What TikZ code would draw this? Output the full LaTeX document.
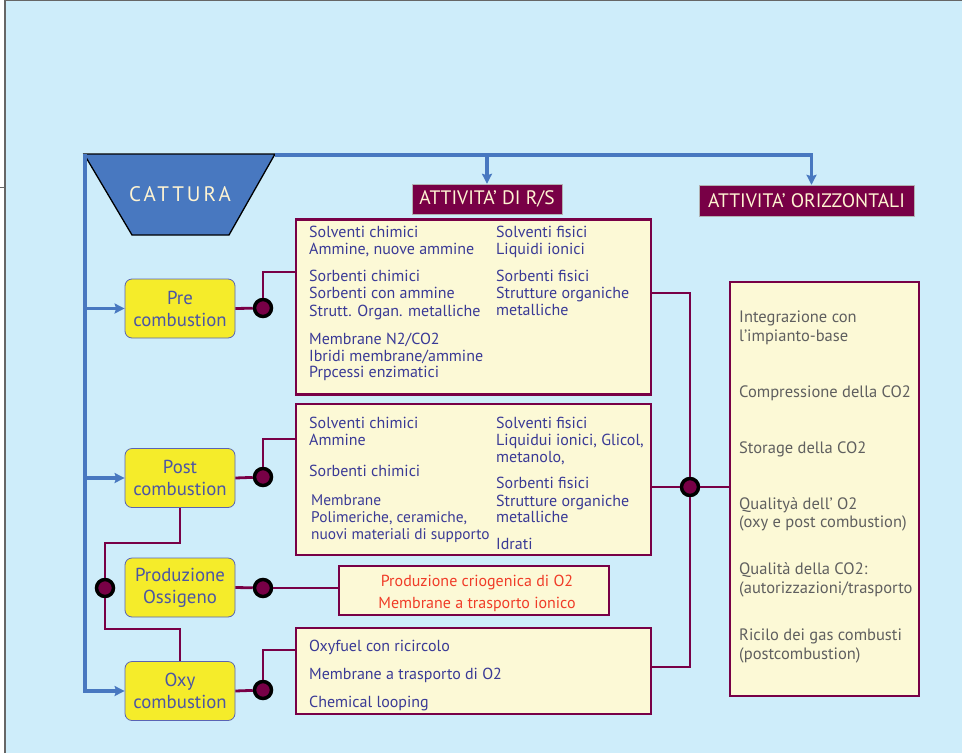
\documentclass[tikz,border=0pt]{standalone}
\usepackage{fontspec}
\setmainfont{PT Sans}
\newfontfamily\spacedfont[LetterSpace=14]{PT Sans}
\usetikzlibrary{arrows.meta}
\definecolor{skyback}{RGB}{206,237,250}
\definecolor{feedblue}{RGB}{72,120,192}
\definecolor{wine}{RGB}{120,0,70}
\definecolor{panelfill}{RGB}{252,249,214}
\definecolor{stagefill}{RGB}{245,236,42}
\definecolor{stageedge}{RGB}{90,100,180}
\definecolor{itemtext}{RGB}{58,58,150}
\definecolor{stagetext}{RGB}{75,85,165}
\definecolor{headtext}{RGB}{255,244,210}
\definecolor{redtext}{RGB}{240,60,40}
\definecolor{greytext}{RGB}{95,95,95}

\begin{document}
\begin{tikzpicture}[x=1pt,y=-1pt,>={Stealth[length=10pt,width=10pt,inset=1.5pt]},
stage/.style={draw=stageedge,line width=0.8pt,fill=stagefill,rounded corners=7pt,minimum width=110pt,minimum height=59pt,align=center,text=stagetext,font=\fontsize{18.8}{22}\selectfont},
panel/.style={draw=wine,line width=2.8pt,fill=panelfill,inner sep=0pt},
header/.style={fill=wine,draw=gray!60,inner sep=0pt,text=headtext,font=\fontsize{19.5}{20}\selectfont},
item/.style={anchor=west,inner sep=0pt,text height=11pt,text depth=3pt,text=itemtext,font=\fontsize{16}{17}\selectfont},
feed/.style={draw=feedblue,line width=3.5pt},
link/.style={draw=wine,line width=2.8pt},
joint/.style={circle,fill=wine,draw=black,line width=3.5pt,inner sep=0pt,minimum size=17pt}]
\useasboundingbox (0,0) rectangle (962,753);
\fill[skyback] (5,0) rectangle (962,753);
\draw[gray!80!black,line width=1.2pt] (5,753)--(5,0.6)--(962,0.6);
\draw[gray!80!black] (0,187)--(5,187);
% cattura
\draw[fill=feedblue,line width=1.3pt] (84,154)--(275,154)--(229,235)--(132,235)--cycle;
\node[text=headtext,font=\spacedfont\fontsize{21}{21}\selectfont] (cattura) at (180,194) {CATTURA};
\coordinate (trunk) at (85,154);
\coordinate (topline) at (275,155);
\node[header,minimum width=150pt,minimum height=30pt] (rs) at (487,199) {ATTIVITA’ DI R/S};
\node[header,minimum width=215pt,minimum height=31pt] (orr) at (806.5,200.5) {ATTIVITA’ ORIZZONTALI};
\draw[feed,->] (topline) -| (rs.north);
\draw[feed,->] (topline) -| ([xshift=5pt]orr.north);
% stages
\node[stage] (pre) at (180,308.5) {Pre\\combustion};
\node[stage] (post) at (180,478) {Post\\combustion};
\node[stage] (prod) at (180,587.5) {Produzione\\Ossigeno};
\node[stage] (oxy) at (180,691) {Oxy\\combustion};
\foreach \s in {pre,post,oxy}
\draw[feed,->] (trunk) |- (\s.west);
% panels
\node[panel,minimum width=355pt,minimum height=175pt] (rspre) at (473.5,307) {};
\node[panel,minimum width=355pt,minimum height=151pt] (rspost) at (473.5,479.5) {};
\node[panel,minimum width=270pt,minimum height=49pt] (rsoxygen) at (474,590.5) {};
\node[panel,minimum width=355pt,minimum height=86pt] (rsoxy) at (473.5,671) {};
\node[panel,minimum width=189pt,minimum height=414pt] (horiz) at (824.5,489) {};
\foreach \y/\t in {233/Solventi chimici,250/{Ammine, nuove ammine},277/Sorbenti chimici,294/Sorbenti con ammine,312/Strutt. Organ. metalliche,340/{Membrane N2/CO2},357/{Ibridi membrane/ammine},373/Prpcessi enzimatici,424/Solventi chimici,441/Ammine,472/Sorbenti chimici,647/Oxyfuel con ricircolo,675/Membrane a trasporto di O2,703/Chemical looping}
\node[item] (la\y) at (309,\y) {\t};
\foreach \y/\t in {501/Membrane,518/{Polimeriche, ceramiche,},535/nuovi materiali di supporto}
\node[item,font=\fontsize{15.4}{17}\selectfont] (lb\y) at (311,\y) {\t};
\foreach \y/\t in {233/Solventi fisici,250/Liquidi ionici,277/Sorbenti fisici,294/Strutture organiche,311/metalliche,424/Solventi fisici,441/{Liquidui ionici, Glicol,},458/{metanolo,},484/Sorbenti fisici,502/Strutture organiche,518/metalliche,545/Idrati}
\node[item] (ra\y) at (496,\y) {\t};
\foreach \y/\t in {582/Produzione criogenica di O2,604/Membrane a trasporto ionico}
\node[item,anchor=center,text=redtext] (ox\y) at (477,\y) {\t};
\foreach \y/\t in {318/Integrazione con,337/l’impianto-base,393/Compressione della CO2,449/Storage della CO2,505/Qualityà dell’ O2,523/(oxy e post combustion),570/Qualità della CO2:,589/{(autorizzazioni/trasporto},636/Ricilo dei gas combusti,655/(postcombustion)}
\node[item,text=greytext,font=\fontsize{16.5}{17}\selectfont] (ho\y) at (739,\y) {\t};
% joints
\node[joint] (j1) at (263,308) {};
\node[joint] (j2) at (263,477) {};
\node[joint] (j3) at (263,588) {};
\node[joint] (j4) at (263,690) {};
\node[joint] (j5) at (105,588) {};
\node[joint] (j6) at (690,487) {};
\draw[link] (pre.east) -- (j1);
\draw[link] (j1) |- (rspre.west |- 0,272);
\draw[link] (post.east) -- (j2);
\draw[link] (j2) |- (rspost.west |- 0,439);
\draw[link] (prod.east) -- (j3);
\draw[link] (j3) -- (rsoxygen.west |- j3);
\draw[link] (oxy.east) -- (j4);
\draw[link] (j4) |- (rsoxy.west |- 0,650);
\draw[link] (post.south) -- (post.south |- 0,543) -| (j5);
\draw[link] (j5) |- (oxy.north |- 0,629) -- (oxy.north);
\draw[link] (rspre.east |- 0,293) -| (j6);
\draw[link] (rsoxy.east |- 0,667) -| (j6);
\draw[link] (rspost.east |- j6) -- (j6);
\draw[link] (j6) -- (j6 -| horiz.west);
\end{tikzpicture}
\end{document}
